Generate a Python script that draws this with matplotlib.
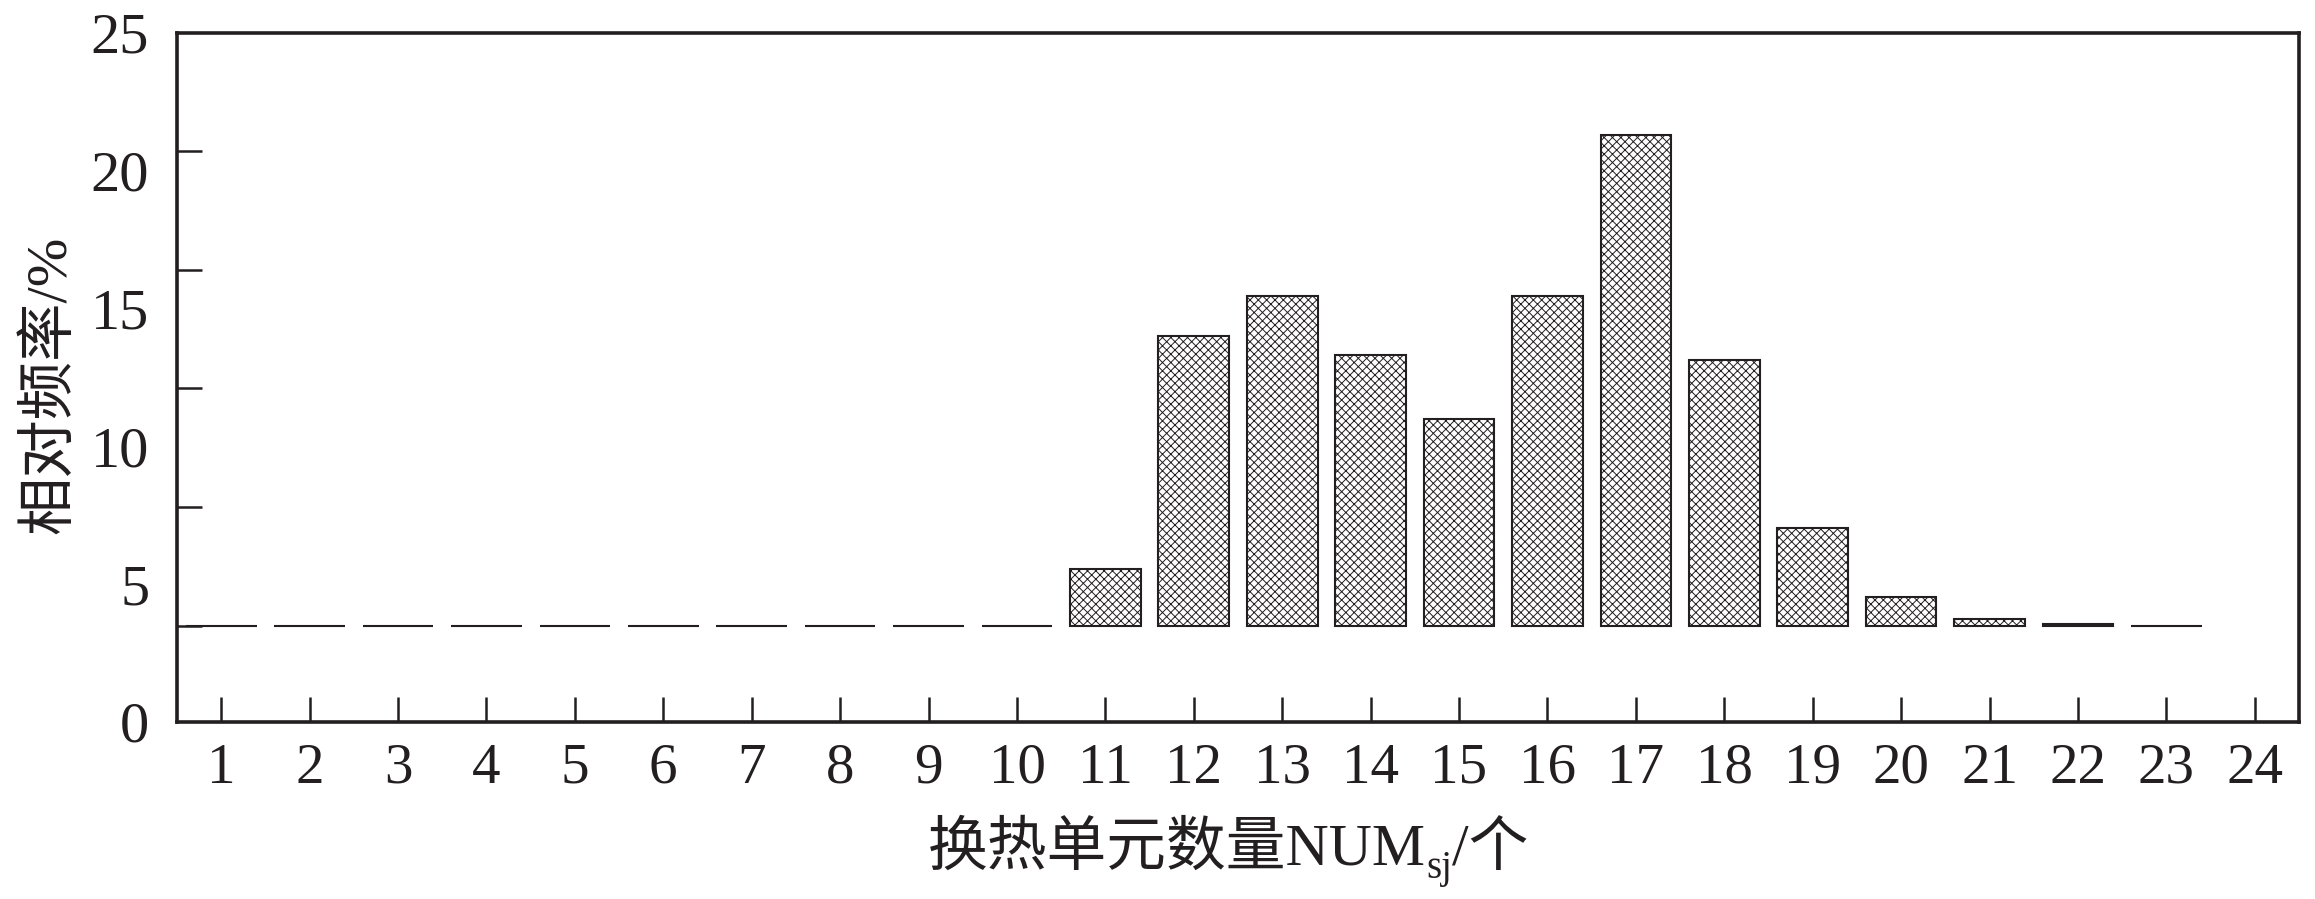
import matplotlib
matplotlib.use('Agg')
import matplotlib.pyplot as plt
import numpy as np

# relative frequency (%) of heat-exchange unit count
units = list(range(1, 24))
freq = [0, 0, 0, 0, 0, 0, 0, 0, 0, 0,
        2.4, 12.2, 13.9, 11.4, 8.7, 13.9, 20.7, 11.2, 4.1, 1.2,
        0.3, 0.08, 0]
xticks = list(range(1, 25))
ylabels = ['0', '5', '10', '15', '20', '25']

dark = '#231f20'
serif = ['Liberation Serif', 'Noto Sans CJK SC']
plt.rcParams['font.family'] = serif
plt.rcParams['hatch.linewidth'] = 0.7
plt.rcParams['hatch.color'] = dark

W, H = 2315, 899
fig = plt.figure(figsize=(W / 100, H / 100), dpi=100)
ax = fig.add_axes([177 / W, 1 - 722 / H, (2299 - 177) / W, (722 - 32.5) / H])

ax.bar(units, freq, width=0.8, bottom=0, facecolor='white', edgecolor=dark,
       linewidth=1.5, hatch='xxxx', zorder=2)

ylo, yhi = -4.06, 25
ax.set_xlim(0.5, 24.5)
ax.set_ylim(ylo, yhi)

for s in ax.spines.values():
    s.set_linewidth(2.6)
    s.set_color(dark)

# x ticks
ax.set_xticks(xticks)
ax.set_xticklabels([str(v) for v in xticks], fontsize=41, color=dark)
ax.tick_params(axis='x', direction='in', length=18, width=1.8, color=dark,
               pad=15, top=False)

# y tick marks (no labels) and label positions spread evenly over the frame
ax.set_yticks([0, 5, 10, 15, 20])
ax.set_yticklabels([])
ax.tick_params(axis='y', which='major', direction='in', length=18, width=1.8,
               color=dark, right=False)
ax.set_yticks(np.linspace(ylo, yhi, 6), minor=True)
ax.set_yticklabels(ylabels, minor=True, fontsize=42, color=dark)
ax.tick_params(axis='y', which='minor', length=0, pad=20)

fig.text(50 / W, 1 - 385 / H, '相对频率/%', rotation=90, ha='center', va='center',
         fontsize=42, color=dark, family=serif)

# x label built from pieces to get the subscript
r = fig.canvas.get_renderer()
x0, base = 928, H - 865
t1 = fig.text(x0 / W, base / H, '换热单元数量NUM', fontsize=43, color=dark,
              va='baseline', family=serif)
e1 = t1.get_window_extent(r)
t2 = fig.text(e1.x1 / W, (base - 13) / H, 'sj', fontsize=28, color=dark,
              va='baseline', family=serif)
e2 = t2.get_window_extent(r)
fig.text(e2.x1 / W, base / H, '/个', fontsize=43, color=dark,
         va='baseline', family=serif)

fig.savefig('out.png', dpi=100)
